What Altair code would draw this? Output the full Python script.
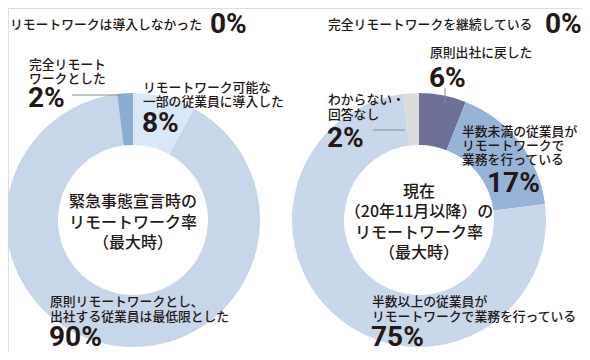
import altair as alt
import pandas as pd

# ---- data ----
left_categories = ["リモートワーク可能な一部の従業員に導入した",
                   "原則リモートワークとし、出社する従業員は最低限とした",
                   "完全リモートワークとした",
                   "リモートワークは導入しなかった"]
left_values = [8, 90, 2, 0]
left_colors = ["#d8e8f6", "#c8d6ea", "#8badd3", "#ffffff"]

right_categories = ["原則出社に戻した",
                    "半数未満の従業員がリモートワークで業務を行っている",
                    "半数以上の従業員がリモートワークで業務を行っている",
                    "わからない・回答なし",
                    "完全リモートワークを継続している"]
right_values = [6, 17, 75, 2, 0]
right_colors = ["#6f7098", "#97b4d8", "#c8d7ea", "#dcdcdc", "#ffffff"]

left_title = ["緊急事態宣言時の", "リモートワーク率", "（最大時）"]
right_title = ["現在", "（20年11月以降）の", "リモートワーク率", "（最大時）"]

JP = "Noto Sans CJK JP"
NUM = "Roboto, Liberation Sans, sans-serif"
TXT = "#231815"
OFF = 8  # page margin


def donut(cats, vals, cols, cx, cy):
    df = pd.DataFrame({"cat": cats, "value": vals, "color": cols,
                       "order": list(range(len(cats)))})
    return alt.Chart(df).mark_arc(radius=127, radius2=75).encode(
        theta=alt.Theta("value:Q", stack=True),
        order=alt.Order("order:Q"),
        color=alt.Color("color:N", scale=None),
        x=alt.value(cx - OFF),
        y=alt.value(cy - OFF),
    )


def label(text, x, y, size=12.8, font=JP, weight=500, align="left",
          baseline="middle", color=TXT):
    df = pd.DataFrame({"t": [text]})
    return alt.Chart(df).mark_text(
        font=font, fontSize=size, fontWeight=weight, align=align,
        baseline=baseline, color=color
    ).encode(text="t:N", x=alt.value(x - OFF), y=alt.value(y - OFF))


def pct(v, x, y, size=28):
    return label(f"{v}%", x, y, size=size, font=NUM, weight="bold",
                 baseline="alphabetic")


def rule(x1, y1, x2, y2):
    df = pd.DataFrame({"a": [0]})
    return alt.Chart(df).mark_rule(color="#8a8a8a", strokeWidth=1).encode(
        x=alt.value(x1 - OFF), x2=alt.value(x2 - OFF),
        y=alt.value(y1 - OFF), y2=alt.value(y2 - OFF))


layers = [
    donut(left_categories, left_values, left_colors, 133, 220),
    donut(right_categories, right_values, right_colors, 419, 220),
    rule(72, 95, 122, 95),
    rule(373, 130, 405, 130),
    rule(445, 88, 445, 103),
    # top notes
    label(left_categories[3], 10, 25),
    pct(left_values[3], 210, 33),
    label(right_categories[4], 328, 25),
    pct(right_values[4], 545, 33),
    # left donut labels
    label("完全リモート", 29, 65),
    label("ワークとした", 29, 79),
    pct(left_values[2], 28, 107),
    label("リモートワーク可能な", 143, 88),
    label("一部の従業員に導入した", 143, 102),
    pct(left_values[0], 142, 132),
    label("原則リモートワークとし、", 50, 302),
    label("出社する従業員は最低限とした", 50, 317),
    pct(left_values[1], 49, 346),
    # right donut labels
    label("原則出社に戻した", 430, 53),
    pct(right_values[0], 429, 87),
    label("わからない・", 328, 100),
    label("回答なし", 328, 115),
    pct(right_values[3], 327, 147),
    label("半数未満の従業員が", 462, 132),
    label("リモートワークで", 462, 146),
    label("業務を行っている", 462, 160),
    pct(right_values[1], 487, 192),
    label("半数以上の従業員が", 372, 302),
    label("リモートワークで業務を行っている", 372, 317),
    pct(right_values[2], 371, 346),
]

for i, line in enumerate(left_title):
    layers.append(label(line, 133, 202 + i * 20.5, size=16, align="center"))
for i, line in enumerate(right_title):
    layers.append(label(line, 419, 192 + i * 20.3, size=16, align="center"))

chart = alt.layer(*layers).resolve_scale(
    theta="independent", color="independent"
).properties(
    width=574, height=344, padding=0,
    autosize=alt.AutoSizeParams(type="none")
).configure_view(stroke=None).configure(background="#ffffff")

chart.save("out.html", embed_options={"renderer": "svg", "actions": False})
